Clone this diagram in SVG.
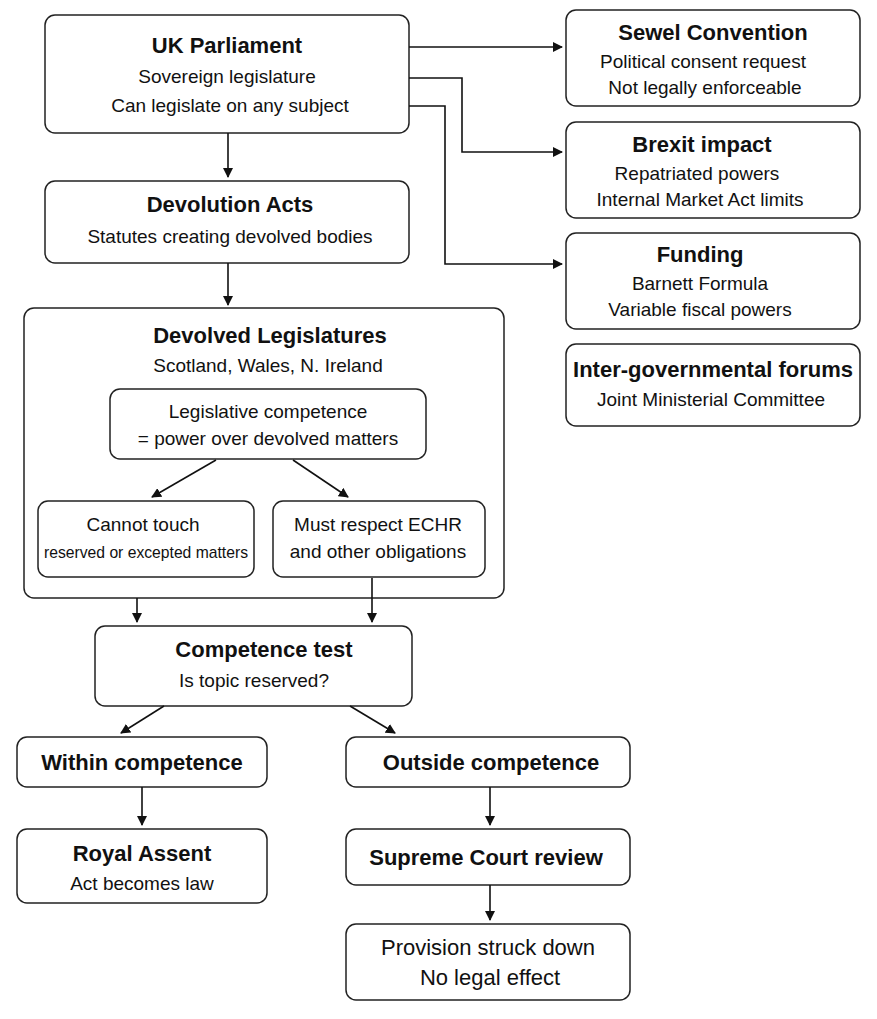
<svg xmlns="http://www.w3.org/2000/svg" width="877" height="1019" viewBox="0 0 877 1019">
<defs>
<marker id="ah" markerWidth="10" markerHeight="10" refX="9" refY="5" orient="auto" markerUnits="userSpaceOnUse"><path d="M0,0 L10,5 L0,10 z" fill="#111"/></marker>
<style>
.b{fill:#fff;stroke:#222;stroke-width:1.5}
text{font-family:"Liberation Sans",Arial,sans-serif;fill:#111;text-anchor:middle}
.t{font-size:22px;font-weight:bold}
.s{font-size:19px}
.c{stroke:#111;stroke-width:1.6;fill:none;marker-end:url(#ah)}
</style>
</defs>
<rect width="877" height="1019" fill="#fff"/>
<g id="uk"><rect class="b" x="45" y="15" width="364" height="118" rx="10"/><text class="t" x="227" y="53">UK Parliament</text><text class="s" x="227" y="83">Sovereign legislature</text><text class="s" x="230" y="112">Can legislate on any subject</text></g>
<g id="sewel"><rect class="b" x="566" y="10" width="294" height="96" rx="10"/><text class="t" x="713" y="40">Sewel Convention</text><text class="s" x="703" y="68">Political consent request</text><text class="s" x="705" y="94">Not legally enforceable</text></g>
<g id="brexit"><rect class="b" x="566" y="122" width="294" height="96" rx="10"/><text class="t" x="702" y="152">Brexit impact</text><text class="s" x="697" y="180">Repatriated powers</text><text class="s" x="700" y="206">Internal Market Act limits</text></g>
<g id="funding"><rect class="b" x="566" y="233" width="294" height="96" rx="10"/><text class="t" x="700" y="262">Funding</text><text class="s" x="700" y="290">Barnett Formula</text><text class="s" x="700" y="316">Variable fiscal powers</text></g>
<g id="forums"><rect class="b" x="566" y="344" width="294" height="82" rx="10"/><text class="t" x="713" y="377">Inter-governmental forums</text><text class="s" x="711" y="406">Joint Ministerial Committee</text></g>
<g id="acts"><rect class="b" x="45" y="181" width="364" height="82" rx="10"/><text class="t" x="230" y="212">Devolution Acts</text><text class="s" x="230" y="243">Statutes creating devolved bodies</text></g>
<g id="devolved"><rect class="b" x="24" y="308" width="480" height="290" rx="10"/><text class="t" x="270" y="343">Devolved Legislatures</text><text class="s" x="268" y="372">Scotland, Wales, N. Ireland</text></g>
<g id="legcomp"><rect class="b" x="110" y="389" width="316" height="70" rx="10"/><text class="s" x="268" y="418">Legislative competence</text><text class="s" x="268" y="445">= power over devolved matters</text></g>
<g id="cannot"><rect class="b" x="38" y="501" width="216" height="76" rx="10"/><text class="s" x="143" y="531">Cannot touch</text><text x="146" y="558" font-size="17" textLength="204" lengthAdjust="spacingAndGlyphs">reserved or excepted matters</text></g>
<g id="must"><rect class="b" x="273" y="501" width="212" height="76" rx="10"/><text class="s" x="378" y="531">Must respect ECHR</text><text class="s" x="378" y="558">and other obligations</text></g>
<g id="test"><rect class="b" x="95" y="626" width="317" height="80" rx="10"/><text class="t" x="264" y="657">Competence test</text><text class="s" x="254" y="687">Is topic reserved?</text></g>
<g id="within"><rect class="b" x="17" y="737" width="250" height="50" rx="10"/><text class="t" x="142" y="770" font-size="21">Within competence</text></g>
<g id="outside"><rect class="b" x="346" y="737" width="284" height="50" rx="10"/><text class="t" x="491" y="770" font-size="21">Outside competence</text></g>
<g id="assent"><rect class="b" x="17" y="829" width="250" height="74" rx="10"/><text class="t" x="142" y="861">Royal Assent</text><text class="s" x="142" y="890">Act becomes law</text></g>
<g id="court"><rect class="b" x="346" y="829" width="284" height="56" rx="10"/><text class="t" x="486" y="865" font-size="21">Supreme Court review</text></g>
<g id="struck"><rect class="b" x="346" y="924" width="284" height="76" rx="10"/><text x="488" y="955" font-size="22">Provision struck down</text><text x="490" y="985" font-size="22">No legal effect</text></g>
<g id="connectors">
<path class="c" d="M409,47 H562"/>
<path class="c" d="M409,78 H462 V152 H562"/>
<path class="c" d="M409,106 H445 V264 H562"/>
<path class="c" d="M228,133 V177"/>
<path class="c" d="M228,263 V305"/>
<path class="c" d="M216,460 L152,497"/>
<path class="c" d="M293,460 L348,497"/>
<path class="c" d="M137,598 V622"/>
<path class="c" d="M372,578 V622"/>
<path class="c" d="M164,706 L121,733"/>
<path class="c" d="M350,706 L395,733"/>
<path class="c" d="M142,787 V825"/>
<path class="c" d="M490,787 V825"/>
<path class="c" d="M490,885 V920"/>
</g>
</svg>
